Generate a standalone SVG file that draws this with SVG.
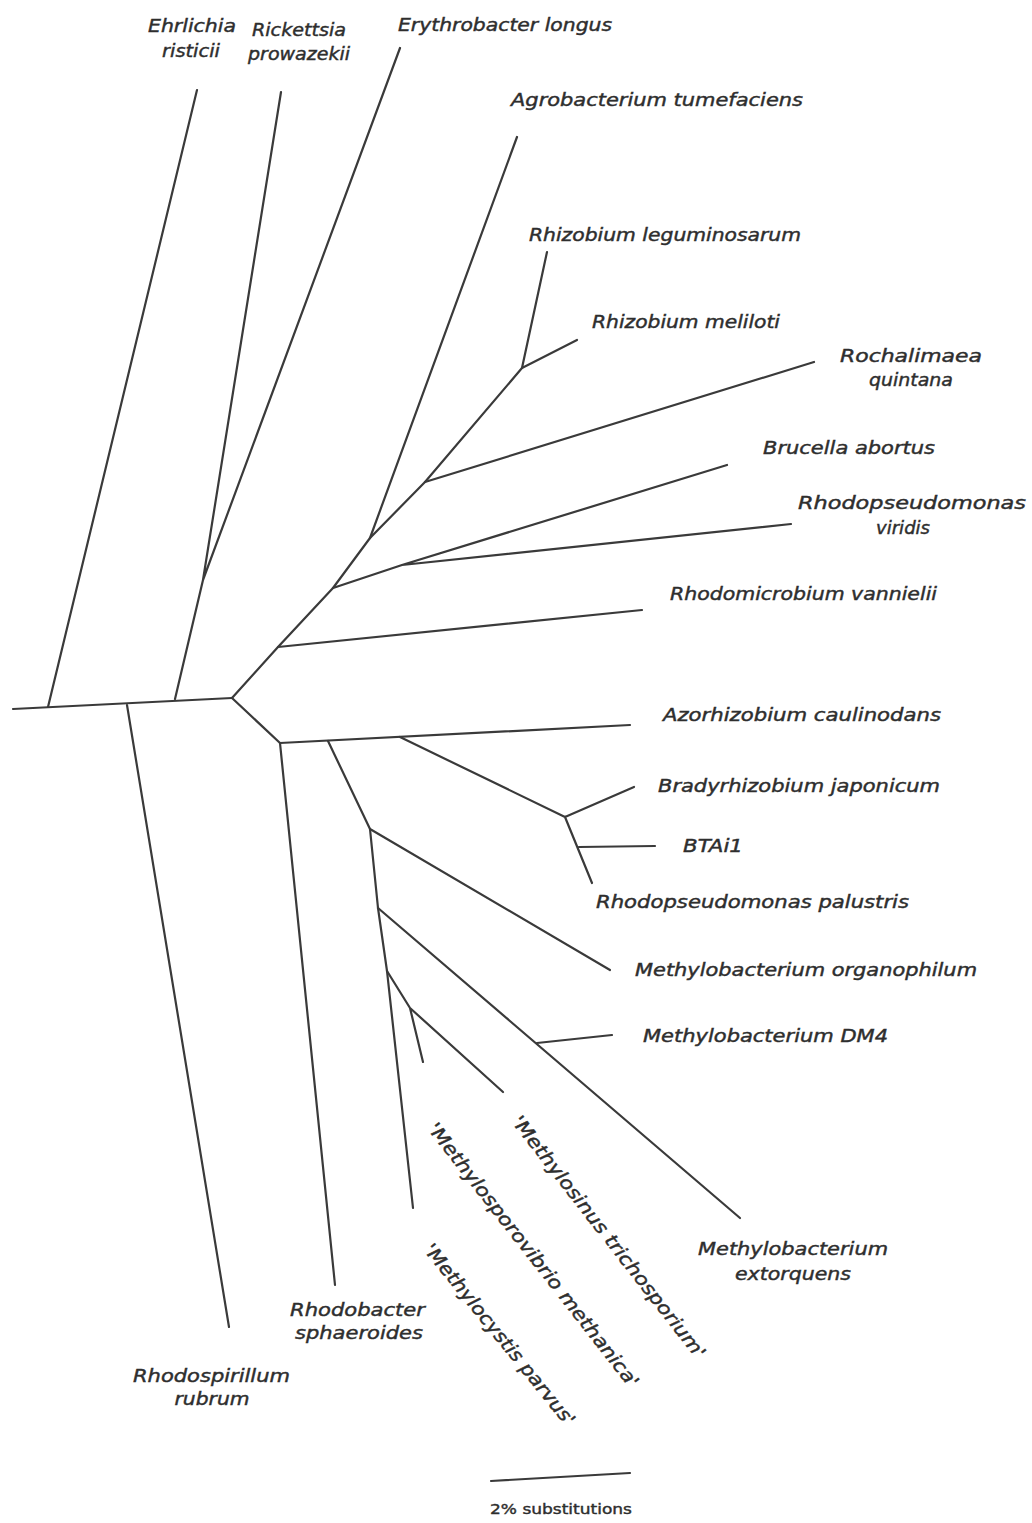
<svg xmlns="http://www.w3.org/2000/svg" width="1032" height="1523" viewBox="0 0 1032 1523">
<style>
.br{stroke:#3a3a3a;stroke-width:2.2;fill:none;stroke-linecap:round;stroke-linejoin:round}
.lb{font-family:"DejaVu Sans","Liberation Sans",sans-serif;font-style:italic;font-size:18.5px;fill:#2e2e2e;stroke:#2e2e2e;stroke-width:0.45}
.sm{font-family:"DejaVu Sans","Liberation Sans",sans-serif;font-size:14px;fill:#2e2e2e;stroke:#2e2e2e;stroke-width:0.4}
</style>
<rect width="1032" height="1523" fill="#ffffff"/>
<g id="connectors">
<path class="br" d="M13,709 L232,698"/>
<path class="br" d="M48,707 L197,90"/>
<path class="br" d="M175,699 L203,580 L281,92 M203,580 L400,48"/>
<path class="br" d="M127,705 L229,1327"/>
<path class="br" d="M232,698 L278,647 L333,588 L370,538 L425,482 L522,368"/>
<path class="br" d="M547,252 L522,368 L577,340"/>
<path class="br" d="M370,538 L517,137"/>
<path class="br" d="M425,482 L814,362"/>
<path class="br" d="M333,588 L402,565 L727,465 M402,565 L791,524"/>
<path class="br" d="M278,647 L642,610"/>
<path class="br" d="M232,698 L280,743 L630,725"/>
<path class="br" d="M280,743 L335,1285"/>
<path class="br" d="M400,737 L565,817 L634,787 M565,817 L592,883 M579,847 L655,846"/>
<path class="br" d="M328,741 L370,829 L378,908 L387,971 L413,1208"/>
<path class="br" d="M370,829 L610,970"/>
<path class="br" d="M378,908 L740,1218"/>
<path class="br" d="M537,1043 L612,1035"/>
<path class="br" d="M387,971 L410,1008 L423,1062 M410,1008 L503,1092"/>
<path class="br" d="M491,1481 L630,1473"/>
</g>
<g id="n-ehrlichia"><text class="lb" x="148" y="32" textLength="88" lengthAdjust="spacingAndGlyphs">Ehrlichia</text><text class="lb" x="162" y="57" textLength="58" lengthAdjust="spacingAndGlyphs">risticii</text></g>
<g id="n-rickettsia"><text class="lb" x="252" y="36" textLength="94" lengthAdjust="spacingAndGlyphs">Rickettsia</text><text class="lb" x="248" y="60" textLength="102" lengthAdjust="spacingAndGlyphs">prowazekii</text></g>
<g id="n-erythrobacter"><text class="lb" x="398" y="31" textLength="214" lengthAdjust="spacingAndGlyphs">Erythrobacter longus</text></g>
<g id="n-agrobacterium"><text class="lb" x="511" y="106" textLength="292" lengthAdjust="spacingAndGlyphs">Agrobacterium tumefaciens</text></g>
<g id="n-rleguminosarum"><text class="lb" x="529" y="241" textLength="272" lengthAdjust="spacingAndGlyphs">Rhizobium leguminosarum</text></g>
<g id="n-rmeliloti"><text class="lb" x="592" y="328" textLength="188" lengthAdjust="spacingAndGlyphs">Rhizobium meliloti</text></g>
<g id="n-rochalimaea"><text class="lb" x="840" y="362" textLength="142" lengthAdjust="spacingAndGlyphs">Rochalimaea</text><text class="lb" x="911" y="386" text-anchor="middle" textLength="84" lengthAdjust="spacingAndGlyphs">quintana</text></g>
<g id="n-brucella"><text class="lb" x="763" y="454" textLength="172" lengthAdjust="spacingAndGlyphs">Brucella abortus</text></g>
<g id="n-rviridis"><text class="lb" x="798" y="509" textLength="228" lengthAdjust="spacingAndGlyphs">Rhodopseudomonas</text><text class="lb" x="903" y="534" text-anchor="middle" textLength="54" lengthAdjust="spacingAndGlyphs">viridis</text></g>
<g id="n-rhodomicrobium"><text class="lb" x="670" y="600" textLength="267" lengthAdjust="spacingAndGlyphs">Rhodomicrobium vannielii</text></g>
<g id="n-azorhizobium"><text class="lb" x="663" y="721" textLength="278" lengthAdjust="spacingAndGlyphs">Azorhizobium caulinodans</text></g>
<g id="n-bradyrhizobium"><text class="lb" x="658" y="792" textLength="282" lengthAdjust="spacingAndGlyphs">Bradyrhizobium japonicum</text></g>
<g id="n-btai1"><text class="lb" x="683" y="852" textLength="60" lengthAdjust="spacingAndGlyphs">BTAi1</text></g>
<g id="n-rpalustris"><text class="lb" x="596" y="908" textLength="313" lengthAdjust="spacingAndGlyphs">Rhodopseudomonas palustris</text></g>
<g id="n-morganophilum"><text class="lb" x="635" y="976" textLength="342" lengthAdjust="spacingAndGlyphs">Methylobacterium organophilum</text></g>
<g id="n-mdm4"><text class="lb" x="643" y="1042" textLength="245" lengthAdjust="spacingAndGlyphs">Methylobacterium DM4</text></g>
<g id="n-mextorquens"><text class="lb" x="793" y="1255" text-anchor="middle" textLength="190" lengthAdjust="spacingAndGlyphs">Methylobacterium</text><text class="lb" x="793" y="1280" text-anchor="middle" textLength="116" lengthAdjust="spacingAndGlyphs">extorquens</text></g>
<g id="n-methylosinus"><text class="lb" transform="translate(511,1122) rotate(52)" textLength="302" lengthAdjust="spacingAndGlyphs">'Methylosinus trichosporium'</text></g>
<g id="n-methylosporovibrio"><text class="lb" transform="translate(427,1129) rotate(52)" textLength="330" lengthAdjust="spacingAndGlyphs">'Methylosporovibrio methanica'</text></g>
<g id="n-methylocystis"><text class="lb" transform="translate(423,1250) rotate(51)" textLength="228" lengthAdjust="spacingAndGlyphs">'Methylocystis parvus'</text></g>
<g id="n-rhodobacter"><text class="lb" x="290" y="1316" textLength="135" lengthAdjust="spacingAndGlyphs">Rhodobacter</text><text class="lb" x="295" y="1339" textLength="128" lengthAdjust="spacingAndGlyphs">sphaeroides</text></g>
<g id="n-rhodospirillum"><text class="lb" x="133" y="1382" textLength="157" lengthAdjust="spacingAndGlyphs">Rhodospirillum</text><text class="lb" x="212" y="1405" text-anchor="middle" textLength="75" lengthAdjust="spacingAndGlyphs">rubrum</text></g>
<g id="scale"><text class="sm" x="561" y="1514" text-anchor="middle" textLength="142" lengthAdjust="spacingAndGlyphs">2% substitutions</text></g>
</svg>
